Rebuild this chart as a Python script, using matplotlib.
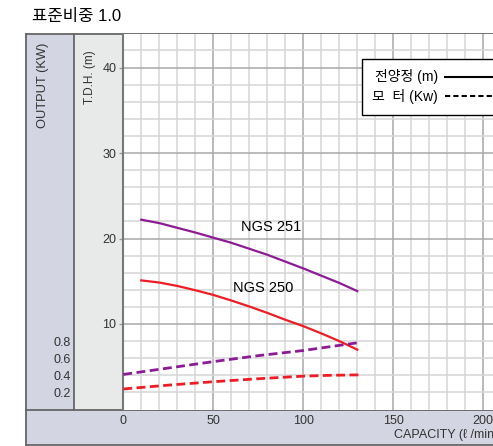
import matplotlib
matplotlib.use("Agg")
import matplotlib.pyplot as plt
from matplotlib.patches import Rectangle
from matplotlib.lines import Line2D

plt.rcParams['font.family'] = ['Liberation Sans', 'Noto Sans CJK KR', 'DejaVu Sans']

# capacity (l/min) and head (m)
q = [10, 20, 30, 40, 50, 60, 70, 80, 90, 100, 110, 120, 130]
head_251 = [22.2, 21.8, 21.25, 20.7, 20.1, 19.5, 18.8, 18.1, 17.3, 16.5, 15.65, 14.8, 13.85]
head_250 = [15.1, 14.85, 14.45, 13.95, 13.4, 12.75, 12.05, 11.3, 10.5, 9.75, 8.9, 8.0, 7.0]

# motor output (kW)
q_out = [0, 25, 50, 75, 100, 130]
out_251 = [0.41, 0.485, 0.56, 0.63, 0.69, 0.78]
q_out2 = [0, 25, 50, 75, 100, 115, 131]
out_250 = [0.24, 0.285, 0.325, 0.36, 0.39, 0.40, 0.405]

head_ticks = [10, 20, 30, 40]
out_ticks = [0.2, 0.4, 0.6, 0.8]
cap_ticks = [0, 50, 100, 150, 200]

purple = '#8c1b95'
red = '#ee1c25'
lavender = '#d3d5e3'
panel_gray = '#e8e9e9'
dark = '#666666'

W, H = 493, 446
fig = plt.figure(figsize=(W / 100, H / 100), dpi=100)


def fx(x):
    return x / W


def fy(y):
    return 1 - y / H


# background panels
fig.patches.append(Rectangle((fx(26), fy(410)), fx(74) - fx(26), fy(34) - fy(410),
                             transform=fig.transFigure, fc=lavender, ec='none', zorder=-2))
fig.patches.append(Rectangle((fx(74), fy(410)), fx(123) - fx(74), fy(34) - fy(410),
                             transform=fig.transFigure, fc=panel_gray, ec='none', zorder=-2))
fig.patches.append(Rectangle((fx(26), fy(445)), 1 - fx(26), fy(410) - fy(445),
                             transform=fig.transFigure, fc=lavender, ec='none', zorder=-2))
for (x0, y0, x1, y1) in [(26, 34, 493, 34), (26, 410, 493, 410), (26, 445, 493, 445),
                         (26, 34, 26, 445), (74, 34, 74, 410)]:
    fig.add_artist(Line2D([fx(x0), fx(x1)], [fy(y0), fy(y1)], transform=fig.transFigure,
                          color=dark, lw=1.3, zorder=-1))

ax = fig.add_axes([fx(123.3), fy(409.5), 1 - fx(123.3), fy(34) - fy(409.5)])
ax.set_zorder(1)
ax.set_xlim(0, (W - 123.3) / 1.8)
ax.set_ylim(0, 375.5 / 8.55)

# grid
for xv in range(10, 210, 10):
    ax.axvline(xv, color='#a8a8a8' if xv % 50 == 0 else '#d6d6d6', lw=1.1, zorder=1)
for yv in range(2, 44, 2):
    ax.axhline(yv, color='#a8a8a8' if yv % 10 == 0 else '#d6d6d6', lw=1.1, zorder=1)

ax.plot(q, head_251, color=purple, lw=1.6, zorder=3)
ax.plot(q, head_250, color=red, lw=1.6, zorder=3)

ax.text(82.4, 21.35, 'NGS 251', fontsize=10.5, ha='center', va='center', zorder=4)
ax.text(77.8, 14.2, 'NGS 250', fontsize=10.5, ha='center', va='center', zorder=4)

for s in ['top', 'right', 'bottom']:
    ax.spines[s].set_visible(False)
ax.spines['left'].set_color('#777777')
ax.spines['left'].set_linewidth(1.5)
ax.set_yticks(head_ticks)
ax.tick_params(axis='y', length=3, width=1, color='#999999', pad=2, labelsize=9,
               labelcolor='#333333')
ax.set_xticks(cap_ticks)
ax.tick_params(axis='x', length=0, pad=4, labelsize=9, labelcolor='#333333')

# output axis sharing the capacity scale
ax2 = ax.twinx()
ax2.set_ylim(0, ax.get_ylim()[1] / 10)
ax2.plot(q_out, out_251, color=purple, lw=2, dashes=(3.2, 1.6), zorder=3)
ax2.plot(q_out2, out_250, color=red, lw=2, dashes=(3.2, 1.6), zorder=3)
ax2.yaxis.set_ticks_position('left')
ax2.spines['left'].set_position(('outward', 38))
for s in ['top', 'right', 'bottom', 'left']:
    ax2.spines[s].set_visible(False)
ax2.set_yticks(out_ticks)
ax2.set_yticklabels(['0.2', '0.4', '0.6', '0.8'])
ax2.tick_params(axis='y', length=0, pad=0, labelsize=9, labelcolor='#333333')

# legend
handles = [Line2D([], [], color='black', lw=1.5),
           Line2D([], [], color='black', lw=1.5, dashes=(2.5, 1.5))]
leg = ax2.legend(handles, ['전양정 (m)', '모  터 (Kw)'], loc='upper left',
                 bbox_to_anchor=(fx(355), fy(52)), bbox_transform=fig.transFigure,
                 markerfirst=False, fontsize=10, handlelength=3.4, handletextpad=0.5,
                 labelspacing=0.35, borderpad=0.75, fancybox=False, framealpha=1,
                 edgecolor='black')
leg.get_frame().set_linewidth(1.0)
leg.set_zorder(5)

# texts
fig.text(fx(32), fy(16.5), '표준비중 1.0', fontsize=12, va='center', ha='left')
fig.text(fx(43), fy(85), 'OUTPUT (KW)', rotation=90, fontsize=9.3, ha='center', va='center',
         color='#333333')
fig.text(fx(90), fy(77), 'T.D.H. (m)', rotation=90, fontsize=8.5, ha='center', va='center',
         color='#333333')
fig.text(fx(394), fy(435), 'CAPACITY (ℓ /min)', fontsize=9, ha='left', va='center',
         color='#333333')

fig.savefig('out.png', dpi=100)
